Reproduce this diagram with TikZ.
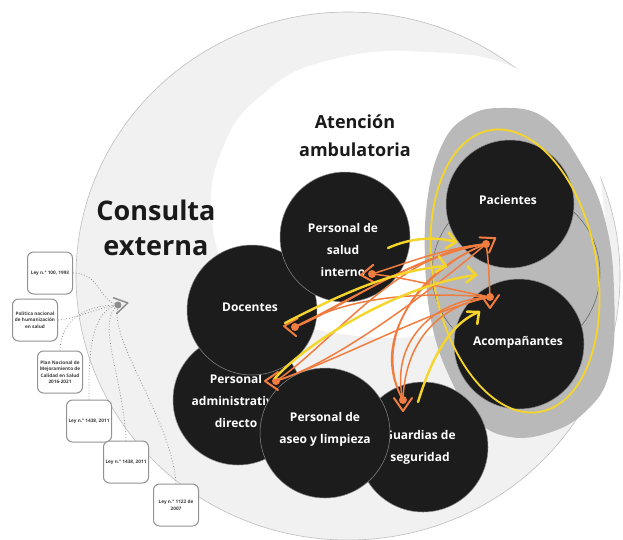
\documentclass[tikz,border=0pt]{standalone}
\usepackage{fontspec}
\setmainfont{Open Sans}
\definecolor{outerfill}{HTML}{F1F1F1}
\definecolor{outerline}{HTML}{BDBDBD}
\definecolor{blobgray}{HTML}{B9B9B9}
\definecolor{discfill}{HTML}{1C1C1C}
\definecolor{discline}{HTML}{8C8C8C}
\definecolor{ringline}{HTML}{5E5E5E}
\definecolor{linkorange}{HTML}{F07D3F}
\definecolor{linkyellow}{HTML}{F6D52A}
\definecolor{boxline}{HTML}{929292}
\definecolor{boxtext}{HTML}{3C3C3C}
\definecolor{hubgray}{HTML}{8E8E8E}
\definecolor{titleink}{HTML}{1A1A1A}
\tikzset{
  disc/.style={circle, fill=discfill, draw=discline, line width=0.5pt, minimum size=130pt, inner sep=0pt},
  disclabel/.style={text=white, font=\bfseries\fontsize{12}{22}\selectfont, align=center, inner sep=0pt},
  lawbox/.style={draw=boxline, fill=white, rounded corners=6pt, line width=1pt,
    minimum width=45pt, minimum height=42pt, inner sep=1pt, align=center,
    text=boxtext, font=\bfseries\fontsize{4.7}{6.5}\selectfont},
  tie/.style={draw=hubgray, dotted, line width=0.8pt},
  olink/.style={draw=linkorange, line width=1.5pt, line cap=round},
  ylink/.style={draw=linkyellow, line width=2.4pt, line cap=round},
  odot/.style={circle, fill=linkorange, minimum size=8pt, inner sep=0pt},
  ochev/.pic={\draw[linkorange, line width=2pt, line cap=round, line join=round] (-2,9) -- (11,0) -- (-2,-9);},
  ychev/.pic={\draw[linkyellow, line width=2.6pt, line cap=round, line join=round] (-9,8) -- (0,0) -- (-9,-8);},
  hubchev/.pic={\draw[hubgray, line width=1.5pt, line cap=round, line join=round] (-3,8) -- (10,0) -- (-3,-8);}
}
\begin{document}
\begin{tikzpicture}[x=1pt, y=-1pt]
\useasboundingbox (0,0) rectangle (623,539);

% outer area: Consulta externa
\filldraw[fill=outerfill, draw=outerline, line width=0.6pt] (348,276) ellipse [x radius=272, y radius=264];

% inner area: Atención ambulatoria
\fill[white] plot[smooth cycle, tension=0.8] coordinates {
  (212,218) (222,150) (262,95) (330,60) (430,52) (520,70) (580,120)
  (603,200) (598,280) (540,320) (440,335) (350,335) (280,315) (232,275)};

% grey group behind patients and companions
\fill[blobgray] plot[smooth cycle, tension=0.7] coordinates {
  (500,108) (545,118) (582,165) (605,220) (614,290) (610,370) (585,412)
  (545,434) (505,436) (475,418) (450,378) (432,325) (425,260) (428,195)
  (442,145) (465,118)};
\draw[ringline, line width=0.5pt] (516,273) circle [radius=84];

% titles
\node[text=titleink, font=\bfseries\fontsize{18}{28}\selectfont, align=center] (amb) at (355,136) {Atención\\ambulatoria};
\node[text=titleink, font=\bfseries\fontsize{27}{35}\selectfont, align=center] (ext) at (156,228) {Consulta\\externa};

% actors
\node[disc] (admin) at (238,400) {};
\node[disclabel] (adminlbl) at (236,401) {Personal\\administrativo\\directo};
\node[disc] (doc) at (252,310) {};
\node[disclabel] (doclbl) at (250,307) {Docentes};
\node[disc] (salud) at (345,237) {};
\node[disclabel] (saludlbl) at (343,250) {Personal de\\salud\\interno};
\node[disc] (guard) at (423,447) {};
\node[disclabel] (guardlbl) at (420,447) {Guardias de\\seguridad};
\node[disc] (aseo) at (325,433) {};
\node[disclabel] (aseolbl) at (325,429) {Personal de\\aseo y limpieza};
\node[disc, minimum size=128pt] (pac) at (510,204) {};
\node[disclabel] (paclbl) at (508,200) {Pacientes};
\node[disc] (acomp) at (519,344) {};
\node[disclabel] (acomplbl) at (518,342) {Acompañantes};

% yellow ring around patients and companions
\draw[linkyellow, line width=1.8pt, rotate around={10:(515,271)}] (515,271) ellipse [x radius=82, y radius=143];

% legal framework boxes
\node[lawbox] (law1) at (50,273) {Ley n.° 100, 1993};
\node[lawbox] (law2) at (35,320) {Política nacional\\de humanización\\en salud};
\node[lawbox] (law3) at (60,372) {Plan Nacional de\\Mejoramiento de\\Calidad en Salud\\2016-2021};
\node[lawbox] (law4) at (89,421) {Ley n.° 1438, 2011};
\node[lawbox] (law5) at (126,462) {Ley n.° 1438, 2011};
\node[lawbox] (law6) at (176,505) {Ley n.° 1122 de\\2007};
\coordinate (hub) at (118,305);
\draw[tie] (law1.east) .. controls (100,273) and (98,300) .. (hub);
\draw[tie] (law2.east) .. controls (80,318) and (95,308) .. (hub);
\draw[tie] (law3.north) .. controls (61,320) and (85,305) .. (hub);
\draw[tie] (law4.north) .. controls (88,340) and (95,310) .. (hub);
\draw[tie] (law5.north) .. controls (124,380) and (95,322) .. (hub);
\draw[tie] (law6.north) .. controls (172,420) and (108,340) .. (hub);
\fill[hubgray] (hub) circle [radius=3.5];
\path (hub) pic[rotate=12] {hubchev};

% orange interaction links
\coordinate (A) at (486,244);
\coordinate (B) at (490,297);
\coordinate (C) at (372,274);
\coordinate (D) at (295,327);
\coordinate (E) at (276,381);
\coordinate (F) at (403,400);
\draw[olink] (A) .. controls (489,262) and (489,280) .. (B);
\draw[olink] (C) .. controls (410,262) and (445,248) .. (A);
\draw[olink] (B) .. controls (450,290) and (410,278) .. (C);
\draw[olink] (D) .. controls (350,300) and (420,255) .. (A);
\draw[olink] (B) .. controls (420,292) and (350,295) .. (D);
\draw[olink] (A) .. controls (410,255) and (340,310) .. (D);
\draw[olink] (E) .. controls (330,365) and (420,300) .. (A);
\draw[olink] (E) .. controls (350,355) and (430,310) .. (B);
\draw[olink] (A) .. controls (400,250) and (330,345) .. (E);
\draw[olink] (F) .. controls (375,350) and (405,275) .. (A);
\draw[olink] (F) .. controls (405,340) and (440,305) .. (B);
\draw[olink] (A) .. controls (430,265) and (365,335) .. (F);
\draw[olink] (B) .. controls (430,300) and (390,345) .. (F);
\foreach \p in {A,B,C,D,E,F} \node[odot] at (\p) {};
\path (A) pic[rotate=32] {ochev};
\path (B) pic[rotate=-90] {ochev};
\path (C) pic[rotate=185] {ochev};
\path (D) pic[rotate=175] {ochev};
\path (E) pic[rotate=180] {ochev};
\path (F) pic[rotate=-90] {ochev};

% yellow links towards patients and companions
\coordinate (ys1) at (388,248); \coordinate (ye1) at (456,242);
\coordinate (ys2) at (285,323); \coordinate (ye2) at (446,266);
\coordinate (ys3) at (275,378); \coordinate (ye3) at (476,275);
\coordinate (ys4) at (418,402); \coordinate (ye4) at (479,312);
\draw[ylink] (ys1) .. controls (410,238) and (435,236) .. (ye1);
\draw[ylink] (ys2) .. controls (330,300) and (390,270) .. (ye2);
\draw[ylink] (ys3) .. controls (310,340) and (400,285) .. (ye3);
\draw[ylink] (ys4) .. controls (428,370) and (445,325) .. (ye4);
\path (ye1) pic[rotate=-10] {ychev};
\path (ye2) pic[rotate=-12] {ychev};
\path (ye3) pic[rotate=-4] {ychev};
\path (ye4) pic[rotate=40] {ychev};
\end{tikzpicture}
\end{document}
